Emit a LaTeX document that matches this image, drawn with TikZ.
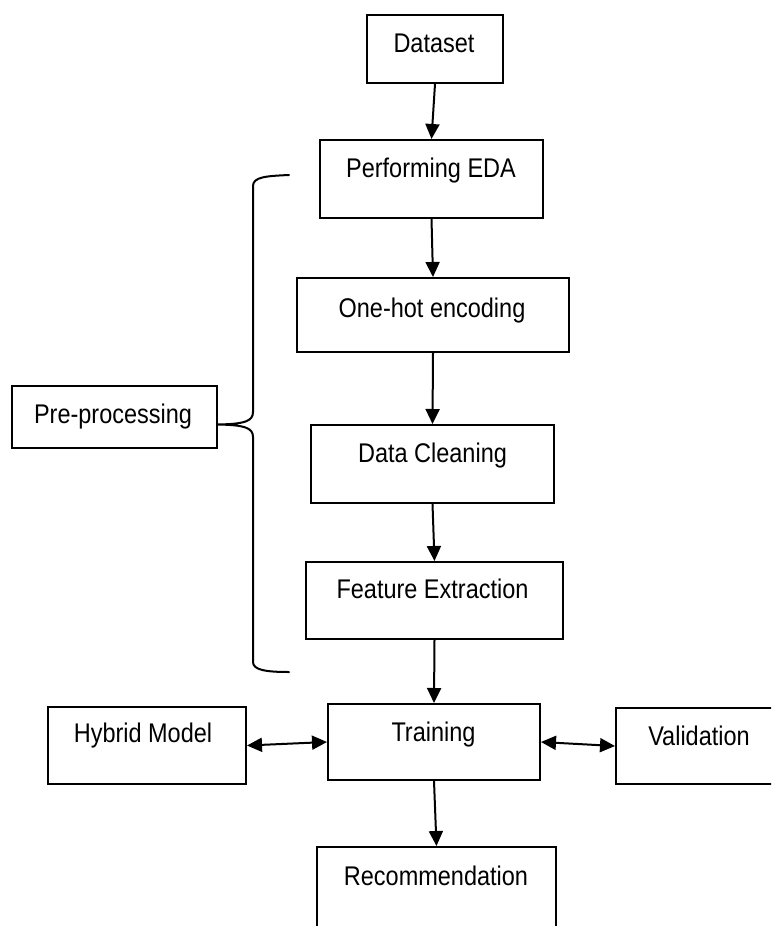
\documentclass[tikz,border=0pt]{standalone}
\usepackage{fontspec}
\setmainfont[FakeStretch=0.87]{Liberation Sans}
\usetikzlibrary{arrows.meta}
\begin{document}
\begin{tikzpicture}[x=1pt,y=-1pt,
  box/.style={draw=black,line width=2pt,rectangle,inner sep=0pt},
  lbl/.style={anchor=base,inner sep=0pt,font=\fontsize{27}{32}\selectfont},
  arr/.style={line width=2pt,-{Triangle[length=15pt,width=14pt]}},
  darr/.style={line width=2pt,{Triangle[length=15pt,width=14pt]}-{Triangle[length=15pt,width=14pt]}}]
\useasboundingbox (0,0) rectangle (771,926);
\clip (0,0) rectangle (771,926);
% boxes
\node[box,minimum width=136pt,minimum height=68pt] (dataset) at (435,49) {};
\node[box,minimum width=223pt,minimum height=78pt] (eda) at (431.5,179) {};
\node[box,minimum width=272pt,minimum height=74pt] (onehot) at (433,315) {};
\node[box,minimum width=243pt,minimum height=78pt] (clean) at (432.5,464) {};
\node[box,minimum width=257pt,minimum height=77pt] (feature) at (434.5,600.5) {};
\node[box,minimum width=212pt,minimum height=76pt] (training) at (434,742) {};
\node[box,minimum width=198pt,minimum height=77pt] (hybrid) at (147,745.5) {};
\node[box,minimum width=184pt,minimum height=76pt] (valid) at (708,746) {};
\node[box,minimum width=239pt,minimum height=113pt] (recom) at (436.5,903.5) {};
\node[box,minimum width=205pt,minimum height=62pt] (pre) at (114.5,417) {};
% texts
\node[lbl] (tdataset) at (434,52) {Dataset};
\node[lbl] (teda) at (431,177) {Performing EDA};
\node[lbl] (tonehot) at (432,317) {One-hot encoding};
\node[lbl] (tclean) at (432.5,462) {Data Cleaning};
\node[lbl] (tfeature) at (432.5,598) {Feature Extraction};
\node[lbl] (ttraining) at (433.5,741) {Training};
\node[lbl] (thybrid) at (143,742) {Hybrid Model};
\node[lbl] (tvalid) at (699,745) {Validation};
\node[lbl] (trecom) at (436,885) {Recommendation};
\node[lbl] (tpre) at (113,423) {Pre-processing};
% connectors
\draw[arr] (dataset.south) -- (eda.north);
\draw[arr] (eda.south) -- (onehot.north);
\draw[arr] (onehot.south) -- (clean.north);
\draw[arr] (clean.south) -- (feature.north);
\draw[arr] (feature.south) -- (training.north);
\draw[arr] (training.south) -- (recom.north);
\draw[darr] (hybrid.east) -- (training.west);
\draw[darr] (training.east) -- (valid.west);
% brace
\draw[line width=2pt,line cap=round,line join=round]
  (289,175) .. controls (266,176) and (253,177) .. (253,186)
  -- (253,412) .. controls (253,421) and (245,424) .. (218,424.5)
  .. controls (245,425) and (253,428) .. (253,437)
  -- (253,662) .. controls (253,670) and (266,672) .. (289,672);
\end{tikzpicture}
\end{document}
